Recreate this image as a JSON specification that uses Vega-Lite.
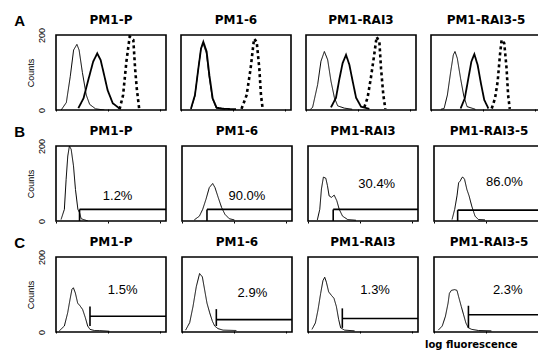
{
  "$schema": "https://vega.github.io/schema/vega-lite/v6.json",
  "background": "white",
  "padding": {"left": 14, "top": 14, "right": 0, "bottom": 2},
  "title": {"text": "log fluorescence", "orient": "bottom", "anchor": "end", "fontSize": 10, "fontWeight": "bold", "font": "DejaVu Sans", "offset": 5, "dx": -28, "color": "black"},
  "config": {
    "view": {"stroke": "black", "strokeWidth": 1.6},
    "font": "Liberation Sans",
    "concat": {"spacing": 12}
  },
  "data": {"values": [
    {"r":"A","c":"PM1-P","k":"line","s":"thin","x":4.7,"y":0},
    {"r":"A","c":"PM1-P","k":"line","s":"thin","x":9.4,"y":20},
    {"r":"A","c":"PM1-P","k":"line","s":"thin","x":13,"y":90},
    {"r":"A","c":"PM1-P","k":"line","s":"thin","x":16,"y":160},
    {"r":"A","c":"PM1-P","k":"line","s":"thin","x":19,"y":175},
    {"r":"A","c":"PM1-P","k":"line","s":"thin","x":21,"y":160},
    {"r":"A","c":"PM1-P","k":"line","s":"thin","x":24,"y":100},
    {"r":"A","c":"PM1-P","k":"line","s":"thin","x":27.5,"y":40},
    {"r":"A","c":"PM1-P","k":"line","s":"thin","x":30.6,"y":15},
    {"r":"A","c":"PM1-P","k":"line","s":"thin","x":36,"y":3},
    {"r":"A","c":"PM1-P","k":"line","s":"thin","x":44,"y":0},
    {"r":"A","c":"PM1-P","k":"line","s":"thick","x":20.3,"y":5},
    {"r":"A","c":"PM1-P","k":"line","s":"thick","x":25,"y":31},
    {"r":"A","c":"PM1-P","k":"line","s":"thick","x":29.7,"y":84},
    {"r":"A","c":"PM1-P","k":"line","s":"thick","x":33.8,"y":129},
    {"r":"A","c":"PM1-P","k":"line","s":"thick","x":37.5,"y":151},
    {"r":"A","c":"PM1-P","k":"line","s":"thick","x":40.6,"y":133},
    {"r":"A","c":"PM1-P","k":"line","s":"thick","x":43.8,"y":93},
    {"r":"A","c":"PM1-P","k":"line","s":"thick","x":46.9,"y":53},
    {"r":"A","c":"PM1-P","k":"line","s":"thick","x":51.6,"y":18},
    {"r":"A","c":"PM1-P","k":"line","s":"thick","x":57.8,"y":4},
    {"r":"A","c":"PM1-P","k":"line","s":"dashed","x":57.8,"y":2},
    {"r":"A","c":"PM1-P","k":"line","s":"dashed","x":61,"y":40},
    {"r":"A","c":"PM1-P","k":"line","s":"dashed","x":64,"y":129},
    {"r":"A","c":"PM1-P","k":"line","s":"dashed","x":67,"y":196},
    {"r":"A","c":"PM1-P","k":"line","s":"dashed","x":68.8,"y":190},
    {"r":"A","c":"PM1-P","k":"line","s":"dashed","x":70.3,"y":187},
    {"r":"A","c":"PM1-P","k":"line","s":"dashed","x":71.9,"y":111},
    {"r":"A","c":"PM1-P","k":"line","s":"dashed","x":73.4,"y":58},
    {"r":"A","c":"PM1-P","k":"line","s":"dashed","x":75.6,"y":4},

    {"r":"A","c":"PM1-6","k":"line","s":"thin","x":9,"y":2},
    {"r":"A","c":"PM1-6","k":"line","s":"thin","x":12.5,"y":35},
    {"r":"A","c":"PM1-6","k":"line","s":"thin","x":15.5,"y":105},
    {"r":"A","c":"PM1-6","k":"line","s":"thin","x":18,"y":160},
    {"r":"A","c":"PM1-6","k":"line","s":"thin","x":20,"y":178},
    {"r":"A","c":"PM1-6","k":"line","s":"thin","x":23,"y":152},
    {"r":"A","c":"PM1-6","k":"line","s":"thin","x":25.5,"y":90},
    {"r":"A","c":"PM1-6","k":"line","s":"thin","x":28.5,"y":30},
    {"r":"A","c":"PM1-6","k":"line","s":"thin","x":32,"y":5},
    {"r":"A","c":"PM1-6","k":"line","s":"thin","x":40,"y":2},
    {"r":"A","c":"PM1-6","k":"line","s":"thick","x":9,"y":3},
    {"r":"A","c":"PM1-6","k":"line","s":"thick","x":12.7,"y":40},
    {"r":"A","c":"PM1-6","k":"line","s":"thick","x":15.8,"y":111},
    {"r":"A","c":"PM1-6","k":"line","s":"thick","x":18.2,"y":164},
    {"r":"A","c":"PM1-6","k":"line","s":"thick","x":20.3,"y":182},
    {"r":"A","c":"PM1-6","k":"line","s":"thick","x":23.3,"y":156},
    {"r":"A","c":"PM1-6","k":"line","s":"thick","x":25.8,"y":93},
    {"r":"A","c":"PM1-6","k":"line","s":"thick","x":28.8,"y":31},
    {"r":"A","c":"PM1-6","k":"line","s":"thick","x":32.4,"y":6},
    {"r":"A","c":"PM1-6","k":"line","s":"thick","x":40,"y":3},
    {"r":"A","c":"PM1-6","k":"line","s":"thick","x":50,"y":2},
    {"r":"A","c":"PM1-6","k":"line","s":"dashed","x":55,"y":3},
    {"r":"A","c":"PM1-6","k":"line","s":"dashed","x":59.7,"y":40},
    {"r":"A","c":"PM1-6","k":"line","s":"dashed","x":63.3,"y":111},
    {"r":"A","c":"PM1-6","k":"line","s":"dashed","x":66.4,"y":190},
    {"r":"A","c":"PM1-6","k":"line","s":"dashed","x":68.8,"y":182},
    {"r":"A","c":"PM1-6","k":"line","s":"dashed","x":71.2,"y":111},
    {"r":"A","c":"PM1-6","k":"line","s":"dashed","x":72.7,"y":40},
    {"r":"A","c":"PM1-6","k":"line","s":"dashed","x":74.2,"y":4},

    {"r":"A","c":"PM1-RAI3","k":"line","s":"thin","x":4,"y":2},
    {"r":"A","c":"PM1-RAI3","k":"line","s":"thin","x":6,"y":7},
    {"r":"A","c":"PM1-RAI3","k":"line","s":"thin","x":10.6,"y":68},
    {"r":"A","c":"PM1-RAI3","k":"line","s":"thin","x":13.6,"y":130},
    {"r":"A","c":"PM1-RAI3","k":"line","s":"thin","x":16.7,"y":156},
    {"r":"A","c":"PM1-RAI3","k":"line","s":"thin","x":19.7,"y":134},
    {"r":"A","c":"PM1-RAI3","k":"line","s":"thin","x":22.7,"y":77},
    {"r":"A","c":"PM1-RAI3","k":"line","s":"thin","x":25.8,"y":33},
    {"r":"A","c":"PM1-RAI3","k":"line","s":"thin","x":28.8,"y":11},
    {"r":"A","c":"PM1-RAI3","k":"line","s":"thin","x":34.8,"y":5},
    {"r":"A","c":"PM1-RAI3","k":"line","s":"thin","x":42,"y":2},
    {"r":"A","c":"PM1-RAI3","k":"line","s":"thick","x":22.7,"y":7},
    {"r":"A","c":"PM1-RAI3","k":"line","s":"thick","x":27.3,"y":33},
    {"r":"A","c":"PM1-RAI3","k":"line","s":"thick","x":30.3,"y":82},
    {"r":"A","c":"PM1-RAI3","k":"line","s":"thick","x":33.3,"y":125},
    {"r":"A","c":"PM1-RAI3","k":"line","s":"thick","x":36.4,"y":147},
    {"r":"A","c":"PM1-RAI3","k":"line","s":"thick","x":39.4,"y":121},
    {"r":"A","c":"PM1-RAI3","k":"line","s":"thick","x":42.4,"y":77},
    {"r":"A","c":"PM1-RAI3","k":"line","s":"thick","x":45.5,"y":33},
    {"r":"A","c":"PM1-RAI3","k":"line","s":"thick","x":50,"y":9},
    {"r":"A","c":"PM1-RAI3","k":"line","s":"thick","x":57.6,"y":3},
    {"r":"A","c":"PM1-RAI3","k":"line","s":"dashed","x":53,"y":7},
    {"r":"A","c":"PM1-RAI3","k":"line","s":"dashed","x":56,"y":33},
    {"r":"A","c":"PM1-RAI3","k":"line","s":"dashed","x":59,"y":86},
    {"r":"A","c":"PM1-RAI3","k":"line","s":"dashed","x":62,"y":147},
    {"r":"A","c":"PM1-RAI3","k":"line","s":"dashed","x":64.2,"y":195},
    {"r":"A","c":"PM1-RAI3","k":"line","s":"dashed","x":66.7,"y":182},
    {"r":"A","c":"PM1-RAI3","k":"line","s":"dashed","x":68.2,"y":111},
    {"r":"A","c":"PM1-RAI3","k":"line","s":"dashed","x":70.3,"y":40},
    {"r":"A","c":"PM1-RAI3","k":"line","s":"dashed","x":72.1,"y":3},

    {"r":"A","c":"PM1-RAI3-5","k":"line","s":"thin","x":9,"y":2},
    {"r":"A","c":"PM1-RAI3-5","k":"line","s":"thin","x":11.9,"y":4},
    {"r":"A","c":"PM1-RAI3-5","k":"line","s":"thin","x":14.9,"y":40},
    {"r":"A","c":"PM1-RAI3-5","k":"line","s":"thin","x":17.9,"y":102},
    {"r":"A","c":"PM1-RAI3-5","k":"line","s":"thin","x":20.3,"y":147},
    {"r":"A","c":"PM1-RAI3-5","k":"line","s":"thin","x":21.8,"y":156},
    {"r":"A","c":"PM1-RAI3-5","k":"line","s":"thin","x":23.9,"y":138},
    {"r":"A","c":"PM1-RAI3-5","k":"line","s":"thin","x":26.9,"y":84},
    {"r":"A","c":"PM1-RAI3-5","k":"line","s":"thin","x":29.9,"y":36},
    {"r":"A","c":"PM1-RAI3-5","k":"line","s":"thin","x":32.8,"y":9},
    {"r":"A","c":"PM1-RAI3-5","k":"line","s":"thin","x":40.3,"y":2},
    {"r":"A","c":"PM1-RAI3-5","k":"line","s":"thick","x":26.9,"y":4},
    {"r":"A","c":"PM1-RAI3-5","k":"line","s":"thick","x":30.7,"y":31},
    {"r":"A","c":"PM1-RAI3-5","k":"line","s":"thick","x":33.7,"y":80},
    {"r":"A","c":"PM1-RAI3-5","k":"line","s":"thick","x":36.7,"y":129},
    {"r":"A","c":"PM1-RAI3-5","k":"line","s":"thick","x":39.4,"y":149},
    {"r":"A","c":"PM1-RAI3-5","k":"line","s":"thick","x":42.4,"y":120},
    {"r":"A","c":"PM1-RAI3-5","k":"line","s":"thick","x":45.4,"y":71},
    {"r":"A","c":"PM1-RAI3-5","k":"line","s":"thick","x":48.4,"y":27},
    {"r":"A","c":"PM1-RAI3-5","k":"line","s":"thick","x":52.2,"y":4},
    {"r":"A","c":"PM1-RAI3-5","k":"line","s":"dashed","x":55.2,"y":4},
    {"r":"A","c":"PM1-RAI3-5","k":"line","s":"dashed","x":58.2,"y":31},
    {"r":"A","c":"PM1-RAI3-5","k":"line","s":"dashed","x":60.6,"y":76},
    {"r":"A","c":"PM1-RAI3-5","k":"line","s":"dashed","x":62.7,"y":147},
    {"r":"A","c":"PM1-RAI3-5","k":"line","s":"dashed","x":64.2,"y":187},
    {"r":"A","c":"PM1-RAI3-5","k":"line","s":"dashed","x":66.6,"y":178},
    {"r":"A","c":"PM1-RAI3-5","k":"line","s":"dashed","x":68.7,"y":111},
    {"r":"A","c":"PM1-RAI3-5","k":"line","s":"dashed","x":70.1,"y":40},
    {"r":"A","c":"PM1-RAI3-5","k":"line","s":"dashed","x":71.6,"y":3},

    {"r":"B","c":"PM1-P","k":"line","s":"thin","x":4.6,"y":4},
    {"r":"B","c":"PM1-P","k":"line","s":"thin","x":7.6,"y":31},
    {"r":"B","c":"PM1-P","k":"line","s":"thin","x":9.2,"y":111},
    {"r":"B","c":"PM1-P","k":"line","s":"thin","x":10.7,"y":173},
    {"r":"B","c":"PM1-P","k":"line","s":"thin","x":12.2,"y":200},
    {"r":"B","c":"PM1-P","k":"line","s":"thin","x":13.8,"y":191},
    {"r":"B","c":"PM1-P","k":"line","s":"thin","x":15.9,"y":147},
    {"r":"B","c":"PM1-P","k":"line","s":"thin","x":17.7,"y":84},
    {"r":"B","c":"PM1-P","k":"line","s":"thin","x":19.9,"y":31},
    {"r":"B","c":"PM1-P","k":"line","s":"thin","x":21.4,"y":22},
    {"r":"B","c":"PM1-P","k":"line","s":"thin","x":22.9,"y":6},
    {"r":"B","c":"PM1-P","k":"line","s":"thin","x":26,"y":3},
    {"r":"B","c":"PM1-P","k":"line","s":"thin","x":29,"y":0},
    {"r":"B","c":"PM1-P","k":"gate","x":21.4,"x2":21.4,"y":0,"y2":31},
    {"r":"B","c":"PM1-P","k":"gate","x":21.4,"x2":100,"y":31,"y2":31},
    {"r":"B","c":"PM1-P","k":"text","x":56,"y":67,"t":"1.2%"},

    {"r":"B","c":"PM1-6","k":"line","s":"thin","x":11.2,"y":3},
    {"r":"B","c":"PM1-6","k":"line","s":"thin","x":15.8,"y":13},
    {"r":"B","c":"PM1-6","k":"line","s":"thin","x":18.8,"y":31},
    {"r":"B","c":"PM1-6","k":"line","s":"thin","x":21.8,"y":58},
    {"r":"B","c":"PM1-6","k":"line","s":"thin","x":24.8,"y":89},
    {"r":"B","c":"PM1-6","k":"line","s":"thin","x":27.9,"y":100},
    {"r":"B","c":"PM1-6","k":"line","s":"thin","x":30,"y":89},
    {"r":"B","c":"PM1-6","k":"line","s":"thin","x":33,"y":62},
    {"r":"B","c":"PM1-6","k":"line","s":"thin","x":36,"y":36},
    {"r":"B","c":"PM1-6","k":"line","s":"thin","x":39,"y":18},
    {"r":"B","c":"PM1-6","k":"line","s":"thin","x":43,"y":6},
    {"r":"B","c":"PM1-6","k":"line","s":"thin","x":47.6,"y":3},
    {"r":"B","c":"PM1-6","k":"gate","x":22.7,"x2":22.7,"y":0,"y2":31},
    {"r":"B","c":"PM1-6","k":"gate","x":22.7,"x2":100,"y":31,"y2":31},
    {"r":"B","c":"PM1-6","k":"text","x":59,"y":68,"t":"90.0%"},

    {"r":"B","c":"PM1-RAI3","k":"line","s":"thin","x":8.5,"y":3},
    {"r":"B","c":"PM1-RAI3","k":"line","s":"thin","x":10.7,"y":31},
    {"r":"B","c":"PM1-RAI3","k":"line","s":"thin","x":12.2,"y":85},
    {"r":"B","c":"PM1-RAI3","k":"line","s":"thin","x":14,"y":117},
    {"r":"B","c":"PM1-RAI3","k":"line","s":"thin","x":16.2,"y":114},
    {"r":"B","c":"PM1-RAI3","k":"line","s":"thin","x":17.7,"y":94},
    {"r":"B","c":"PM1-RAI3","k":"line","s":"thin","x":19.2,"y":67},
    {"r":"B","c":"PM1-RAI3","k":"line","s":"thin","x":21.3,"y":63},
    {"r":"B","c":"PM1-RAI3","k":"line","s":"thin","x":23.8,"y":69},
    {"r":"B","c":"PM1-RAI3","k":"line","s":"thin","x":26.2,"y":54},
    {"r":"B","c":"PM1-RAI3","k":"line","s":"thin","x":28.4,"y":31},
    {"r":"B","c":"PM1-RAI3","k":"line","s":"thin","x":31.4,"y":13},
    {"r":"B","c":"PM1-RAI3","k":"line","s":"thin","x":36,"y":4},
    {"r":"B","c":"PM1-RAI3","k":"line","s":"thin","x":43.6,"y":2},
    {"r":"B","c":"PM1-RAI3","k":"gate","x":22.9,"x2":22.9,"y":0,"y2":31},
    {"r":"B","c":"PM1-RAI3","k":"gate","x":22.9,"x2":100,"y":31,"y2":31},
    {"r":"B","c":"PM1-RAI3","k":"text","x":62.5,"y":99,"t":"30.4%"},

    {"r":"B","c":"PM1-RAI3-5","k":"line","s":"thin","x":16.4,"y":4},
    {"r":"B","c":"PM1-RAI3-5","k":"line","s":"thin","x":18.8,"y":31},
    {"r":"B","c":"PM1-RAI3-5","k":"line","s":"thin","x":20.9,"y":67},
    {"r":"B","c":"PM1-RAI3-5","k":"line","s":"thin","x":22.4,"y":102},
    {"r":"B","c":"PM1-RAI3-5","k":"line","s":"thin","x":23.9,"y":107},
    {"r":"B","c":"PM1-RAI3-5","k":"line","s":"thin","x":25.4,"y":116},
    {"r":"B","c":"PM1-RAI3-5","k":"line","s":"thin","x":26.3,"y":117},
    {"r":"B","c":"PM1-RAI3-5","k":"line","s":"thin","x":27.8,"y":111},
    {"r":"B","c":"PM1-RAI3-5","k":"line","s":"thin","x":29.9,"y":84},
    {"r":"B","c":"PM1-RAI3-5","k":"line","s":"thin","x":31.9,"y":67},
    {"r":"B","c":"PM1-RAI3-5","k":"line","s":"thin","x":34.3,"y":40},
    {"r":"B","c":"PM1-RAI3-5","k":"line","s":"thin","x":37.3,"y":13},
    {"r":"B","c":"PM1-RAI3-5","k":"line","s":"thin","x":40.3,"y":4},
    {"r":"B","c":"PM1-RAI3-5","k":"line","s":"thin","x":46.3,"y":3},
    {"r":"B","c":"PM1-RAI3-5","k":"gate","x":21.5,"x2":21.5,"y":0,"y2":29},
    {"r":"B","c":"PM1-RAI3-5","k":"gate","x":21.5,"x2":100,"y":29,"y2":29},
    {"r":"B","c":"PM1-RAI3-5","k":"text","x":64,"y":104,"t":"86.0%"},

    {"r":"C","c":"PM1-P","k":"line","s":"thin","x":3,"y":3},
    {"r":"C","c":"PM1-P","k":"line","s":"thin","x":7.6,"y":16},
    {"r":"C","c":"PM1-P","k":"line","s":"thin","x":10.6,"y":51},
    {"r":"C","c":"PM1-P","k":"line","s":"thin","x":12.7,"y":86},
    {"r":"C","c":"PM1-P","k":"line","s":"thin","x":14.5,"y":114},
    {"r":"C","c":"PM1-P","k":"line","s":"thin","x":15.8,"y":118},
    {"r":"C","c":"PM1-P","k":"line","s":"thin","x":17.6,"y":104},
    {"r":"C","c":"PM1-P","k":"line","s":"thin","x":19.7,"y":77},
    {"r":"C","c":"PM1-P","k":"line","s":"thin","x":21.8,"y":70},
    {"r":"C","c":"PM1-P","k":"line","s":"thin","x":24.2,"y":60},
    {"r":"C","c":"PM1-P","k":"line","s":"thin","x":26.7,"y":38},
    {"r":"C","c":"PM1-P","k":"line","s":"thin","x":28.8,"y":16},
    {"r":"C","c":"PM1-P","k":"line","s":"thin","x":30.9,"y":7},
    {"r":"C","c":"PM1-P","k":"line","s":"thin","x":34.8,"y":4},
    {"r":"C","c":"PM1-P","k":"line","s":"thin","x":39.4,"y":4},
    {"r":"C","c":"PM1-P","k":"line","s":"thin","x":48.5,"y":2},
    {"r":"C","c":"PM1-P","k":"gate","x":30.9,"x2":30.9,"y":16,"y2":68},
    {"r":"C","c":"PM1-P","k":"gate","x":30.9,"x2":100,"y":42,"y2":42},
    {"r":"C","c":"PM1-P","k":"text","x":60.6,"y":112,"t":"1.5%"},

    {"r":"C","c":"PM1-6","k":"line","s":"thin","x":3.3,"y":5},
    {"r":"C","c":"PM1-6","k":"line","s":"thin","x":7,"y":25},
    {"r":"C","c":"PM1-6","k":"line","s":"thin","x":10,"y":68},
    {"r":"C","c":"PM1-6","k":"line","s":"thin","x":13,"y":121},
    {"r":"C","c":"PM1-6","k":"line","s":"thin","x":16,"y":156},
    {"r":"C","c":"PM1-6","k":"line","s":"thin","x":18.5,"y":147},
    {"r":"C","c":"PM1-6","k":"line","s":"thin","x":20.6,"y":112},
    {"r":"C","c":"PM1-6","k":"line","s":"thin","x":22.7,"y":77},
    {"r":"C","c":"PM1-6","k":"line","s":"thin","x":25.2,"y":51},
    {"r":"C","c":"PM1-6","k":"line","s":"thin","x":27.6,"y":29},
    {"r":"C","c":"PM1-6","k":"line","s":"thin","x":29.7,"y":16},
    {"r":"C","c":"PM1-6","k":"line","s":"thin","x":32.7,"y":9},
    {"r":"C","c":"PM1-6","k":"line","s":"thin","x":37.3,"y":5},
    {"r":"C","c":"PM1-6","k":"line","s":"thin","x":49.4,"y":4},
    {"r":"C","c":"PM1-6","k":"gate","x":31.2,"x2":31.2,"y":16,"y2":61},
    {"r":"C","c":"PM1-6","k":"gate","x":31.2,"x2":100,"y":33,"y2":33},
    {"r":"C","c":"PM1-6","k":"text","x":64,"y":105,"t":"2.9%"},

    {"r":"C","c":"PM1-RAI3","k":"line","s":"thin","x":3.6,"y":7},
    {"r":"C","c":"PM1-RAI3","k":"line","s":"thin","x":6.7,"y":24},
    {"r":"C","c":"PM1-RAI3","k":"line","s":"thin","x":9.1,"y":59},
    {"r":"C","c":"PM1-RAI3","k":"line","s":"thin","x":11.5,"y":103},
    {"r":"C","c":"PM1-RAI3","k":"line","s":"thin","x":13.6,"y":137},
    {"r":"C","c":"PM1-RAI3","k":"line","s":"thin","x":15.2,"y":146},
    {"r":"C","c":"PM1-RAI3","k":"line","s":"thin","x":16.7,"y":133},
    {"r":"C","c":"PM1-RAI3","k":"line","s":"thin","x":18.8,"y":107},
    {"r":"C","c":"PM1-RAI3","k":"line","s":"thin","x":21.2,"y":98},
    {"r":"C","c":"PM1-RAI3","k":"line","s":"thin","x":23.6,"y":90},
    {"r":"C","c":"PM1-RAI3","k":"line","s":"thin","x":25.8,"y":68},
    {"r":"C","c":"PM1-RAI3","k":"line","s":"thin","x":27.9,"y":33},
    {"r":"C","c":"PM1-RAI3","k":"line","s":"thin","x":29.7,"y":11},
    {"r":"C","c":"PM1-RAI3","k":"line","s":"thin","x":33.3,"y":5},
    {"r":"C","c":"PM1-RAI3","k":"line","s":"thin","x":42.4,"y":3},
    {"r":"C","c":"PM1-RAI3","k":"gate","x":31.2,"x2":31.2,"y":11,"y2":63},
    {"r":"C","c":"PM1-RAI3","k":"gate","x":31.2,"x2":100,"y":36,"y2":36},
    {"r":"C","c":"PM1-RAI3","k":"text","x":61,"y":113,"t":"1.3%"},

    {"r":"C","c":"PM1-RAI3-5","k":"line","s":"thin","x":3.9,"y":5},
    {"r":"C","c":"PM1-RAI3-5","k":"line","s":"thin","x":7.5,"y":16},
    {"r":"C","c":"PM1-RAI3-5","k":"line","s":"thin","x":10.4,"y":42},
    {"r":"C","c":"PM1-RAI3-5","k":"line","s":"thin","x":12.8,"y":77},
    {"r":"C","c":"PM1-RAI3-5","k":"line","s":"thin","x":14,"y":103},
    {"r":"C","c":"PM1-RAI3-5","k":"line","s":"thin","x":15.8,"y":111},
    {"r":"C","c":"PM1-RAI3-5","k":"line","s":"thin","x":18.8,"y":113},
    {"r":"C","c":"PM1-RAI3-5","k":"line","s":"thin","x":20.9,"y":111},
    {"r":"C","c":"PM1-RAI3-5","k":"line","s":"thin","x":22.4,"y":94},
    {"r":"C","c":"PM1-RAI3-5","k":"line","s":"thin","x":24.8,"y":68},
    {"r":"C","c":"PM1-RAI3-5","k":"line","s":"thin","x":26.9,"y":46},
    {"r":"C","c":"PM1-RAI3-5","k":"line","s":"thin","x":29,"y":24},
    {"r":"C","c":"PM1-RAI3-5","k":"line","s":"thin","x":31.3,"y":11},
    {"r":"C","c":"PM1-RAI3-5","k":"line","s":"thin","x":34.3,"y":7},
    {"r":"C","c":"PM1-RAI3-5","k":"line","s":"thin","x":40.3,"y":4},
    {"r":"C","c":"PM1-RAI3-5","k":"line","s":"thin","x":52.2,"y":3},
    {"r":"C","c":"PM1-RAI3-5","k":"gate","x":31.3,"x2":31.3,"y":11,"y2":70},
    {"r":"C","c":"PM1-RAI3-5","k":"gate","x":31.3,"x2":100,"y":46,"y2":46},
    {"r":"C","c":"PM1-RAI3-5","k":"text","x":67,"y":113,"t":"2.3%"}
  ]},
  "vconcat": [
    {
      "transform": [{"filter": "datum.r == 'A'"}],
      "facet": {
        "row": {"field": "r", "type": "nominal", "header": {"title": null, "labelAngle": 0, "labelAnchor": "end", "labelAlign": "left", "labelBaseline": "line-bottom", "labelLineHeight": 26, "labelFontSize": 15, "labelFontWeight": "bold", "labelFont": "Liberation Sans", "labelPadding": 1, "labelColor": "black"}},
        "column": {"field": "c", "type": "nominal", "sort": ["PM1-P", "PM1-6", "PM1-RAI3", "PM1-RAI3-5"], "header": {"title": null, "labelFontSize": 12, "labelFontWeight": "bold", "labelFont": "DejaVu Sans", "labelPadding": 7, "labelColor": "black"}}
      },
      "spacing": {"column": 13},
      "spec": {
        "width": 110, "height": 75,
        "layer": [
          {
            "transform": [{"filter": "datum.k == 'line'"}],
            "mark": {"type": "line", "color": "black", "clip": true},
            "encoding": {
              "x": {"field": "x", "type": "quantitative", "scale": {"domain": [0, 100]}, "axis": {"labels": false, "title": null, "domain": false, "grid": false, "ticks": true, "tickSize": -2, "tickColor": "black", "values": [0, 7.5, 11.9, 15.1, 17.5, 19.5, 21.1, 22.6, 23.9, 25, 32.5, 36.9, 40.1, 42.5, 44.5, 46.1, 47.6, 48.9, 50, 57.5, 61.9, 65.1, 67.5, 69.5, 71.1, 72.6, 73.9, 75, 82.5, 86.9, 90.1, 92.5, 94.5, 96.1, 97.6, 98.9, 100]}},
              "y": {"field": "y", "type": "quantitative", "scale": {"domain": [0, 200]}, "axis": {"title": "Counts", "titleFontSize": 9, "titleFontWeight": "normal", "titleColor": "black", "titlePadding": 2, "values": [0, 200], "labelAngle": -90, "labelFontSize": 9, "labelColor": "black", "ticks": false, "domain": false, "grid": false, "labelPadding": 9}},
              "detail": {"field": "s"},
              "strokeWidth": {"field": "s", "type": "nominal", "scale": {"domain": ["thin", "thick", "dashed"], "range": [1, 2.6, 1]}, "legend": null},
              "strokeDash": {"field": "s", "type": "nominal", "scale": {"domain": ["thin", "thick", "dashed"], "range": [[1, 0], [1, 0], [3, 3]]}, "legend": null}
            }
          },
          {
            "transform": [{"filter": "datum.k == 'gate'"}],
            "mark": {"type": "rule", "color": "black", "strokeWidth": 1.6},
            "encoding": {"x": {"field": "x", "type": "quantitative"}, "x2": {"field": "x2"}, "y": {"field": "y", "type": "quantitative"}, "y2": {"field": "y2"}}
          },
          {
            "transform": [{"filter": "datum.k == 'text'"}],
            "mark": {"type": "text", "fontSize": 13, "font": "Liberation Sans", "color": "black"},
            "encoding": {"x": {"field": "x", "type": "quantitative"}, "y": {"field": "y", "type": "quantitative"}, "text": {"field": "t"}}
          }
        ]
      }
    },
    {
      "transform": [{"filter": "datum.r == 'B'"}],
      "facet": {
        "row": {"field": "r", "type": "nominal", "header": {"title": null, "labelAngle": 0, "labelAnchor": "end", "labelAlign": "left", "labelBaseline": "line-bottom", "labelLineHeight": 26, "labelFontSize": 15, "labelFontWeight": "bold", "labelFont": "Liberation Sans", "labelPadding": 1, "labelColor": "black"}},
        "column": {"field": "c", "type": "nominal", "sort": ["PM1-P", "PM1-6", "PM1-RAI3", "PM1-RAI3-5"], "header": {"title": null, "labelFontSize": 12, "labelFontWeight": "bold", "labelFont": "DejaVu Sans", "labelPadding": 7, "labelColor": "black"}}
      },
      "spacing": {"column": 13},
      "spec": {
        "width": 110, "height": 75,
        "layer": [
          {
            "transform": [{"filter": "datum.k == 'line'"}],
            "mark": {"type": "line", "color": "black", "clip": true},
            "encoding": {
              "x": {"field": "x", "type": "quantitative", "scale": {"domain": [0, 100]}, "axis": {"labels": false, "title": null, "domain": false, "grid": false, "ticks": true, "tickSize": -2, "tickColor": "black", "values": [0, 7.5, 11.9, 15.1, 17.5, 19.5, 21.1, 22.6, 23.9, 25, 32.5, 36.9, 40.1, 42.5, 44.5, 46.1, 47.6, 48.9, 50, 57.5, 61.9, 65.1, 67.5, 69.5, 71.1, 72.6, 73.9, 75, 82.5, 86.9, 90.1, 92.5, 94.5, 96.1, 97.6, 98.9, 100]}},
              "y": {"field": "y", "type": "quantitative", "scale": {"domain": [0, 200]}, "axis": {"title": "Counts", "titleFontSize": 9, "titleFontWeight": "normal", "titleColor": "black", "titlePadding": 2, "values": [0, 200], "labelAngle": -90, "labelFontSize": 9, "labelColor": "black", "ticks": false, "domain": false, "grid": false, "labelPadding": 9}},
              "detail": {"field": "s"},
              "strokeWidth": {"field": "s", "type": "nominal", "scale": {"domain": ["thin", "thick", "dashed"], "range": [1, 2.6, 1]}, "legend": null},
              "strokeDash": {"field": "s", "type": "nominal", "scale": {"domain": ["thin", "thick", "dashed"], "range": [[1, 0], [1, 0], [3, 3]]}, "legend": null}
            }
          },
          {
            "transform": [{"filter": "datum.k == 'gate'"}],
            "mark": {"type": "rule", "color": "black", "strokeWidth": 1.6},
            "encoding": {"x": {"field": "x", "type": "quantitative"}, "x2": {"field": "x2"}, "y": {"field": "y", "type": "quantitative"}, "y2": {"field": "y2"}}
          },
          {
            "transform": [{"filter": "datum.k == 'text'"}],
            "mark": {"type": "text", "fontSize": 13, "font": "Liberation Sans", "color": "black"},
            "encoding": {"x": {"field": "x", "type": "quantitative"}, "y": {"field": "y", "type": "quantitative"}, "text": {"field": "t"}}
          }
        ]
      }
    },
    {
      "transform": [{"filter": "datum.r == 'C'"}],
      "facet": {
        "row": {"field": "r", "type": "nominal", "header": {"title": null, "labelAngle": 0, "labelAnchor": "end", "labelAlign": "left", "labelBaseline": "line-bottom", "labelLineHeight": 26, "labelFontSize": 15, "labelFontWeight": "bold", "labelFont": "Liberation Sans", "labelPadding": 1, "labelColor": "black"}},
        "column": {"field": "c", "type": "nominal", "sort": ["PM1-P", "PM1-6", "PM1-RAI3", "PM1-RAI3-5"], "header": {"title": null, "labelFontSize": 12, "labelFontWeight": "bold", "labelFont": "DejaVu Sans", "labelPadding": 7, "labelColor": "black"}}
      },
      "spacing": {"column": 13},
      "spec": {
        "width": 110, "height": 75,
        "layer": [
          {
            "transform": [{"filter": "datum.k == 'line'"}],
            "mark": {"type": "line", "color": "black", "clip": true},
            "encoding": {
              "x": {"field": "x", "type": "quantitative", "scale": {"domain": [0, 100]}, "axis": {"labels": false, "title": null, "domain": false, "grid": false, "ticks": true, "tickSize": -2, "tickColor": "black", "values": [0, 7.5, 11.9, 15.1, 17.5, 19.5, 21.1, 22.6, 23.9, 25, 32.5, 36.9, 40.1, 42.5, 44.5, 46.1, 47.6, 48.9, 50, 57.5, 61.9, 65.1, 67.5, 69.5, 71.1, 72.6, 73.9, 75, 82.5, 86.9, 90.1, 92.5, 94.5, 96.1, 97.6, 98.9, 100]}},
              "y": {"field": "y", "type": "quantitative", "scale": {"domain": [0, 200]}, "axis": {"title": "Counts", "titleFontSize": 9, "titleFontWeight": "normal", "titleColor": "black", "titlePadding": 2, "values": [0, 200], "labelAngle": -90, "labelFontSize": 9, "labelColor": "black", "ticks": false, "domain": false, "grid": false, "labelPadding": 9}},
              "detail": {"field": "s"},
              "strokeWidth": {"field": "s", "type": "nominal", "scale": {"domain": ["thin", "thick", "dashed"], "range": [1, 2.6, 1]}, "legend": null},
              "strokeDash": {"field": "s", "type": "nominal", "scale": {"domain": ["thin", "thick", "dashed"], "range": [[1, 0], [1, 0], [3, 3]]}, "legend": null}
            }
          },
          {
            "transform": [{"filter": "datum.k == 'gate'"}],
            "mark": {"type": "rule", "color": "black", "strokeWidth": 1.6},
            "encoding": {"x": {"field": "x", "type": "quantitative"}, "x2": {"field": "x2"}, "y": {"field": "y", "type": "quantitative"}, "y2": {"field": "y2"}}
          },
          {
            "transform": [{"filter": "datum.k == 'text'"}],
            "mark": {"type": "text", "fontSize": 13, "font": "Liberation Sans", "color": "black"},
            "encoding": {"x": {"field": "x", "type": "quantitative"}, "y": {"field": "y", "type": "quantitative"}, "text": {"field": "t"}}
          }
        ]
      }
    }
  ]
}
